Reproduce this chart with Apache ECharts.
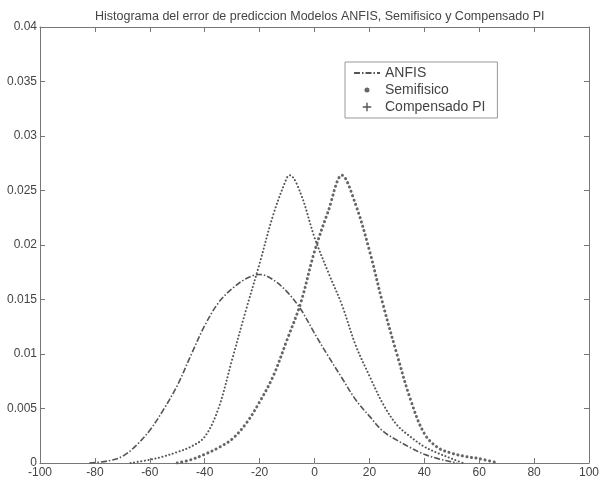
<!DOCTYPE html>
<html>
<head>
<meta charset="utf-8">
<script src="https://cdn.jsdelivr.net/npm/echarts@6/dist/echarts.min.js"></script>
<style>html,body{margin:0;padding:0;background:#fff;}#c{width:603px;height:481px;}</style>
</head>
<body>
<div id="c"></div>
<script>
var titleText = 'Histograma del error de prediccion Modelos ANFIS, Semifisico y Compensado PI';
var seriesNames = ['ANFIS', 'Semifisico', 'Compensado PI'];
var xTicks = [-100, -80, -60, -40, -20, 0, 20, 40, 60, 80, 100];
var yTicks = [0, 0.005, 0.01, 0.015, 0.02, 0.025, 0.03, 0.035, 0.04];

var anfisX = [-82, -75, -70, -65, -60, -55, -50, -45, -40, -35, -30, -25, -20, -15, -10, -5, 0, 5, 10, 15, 20, 25, 30, 35, 40, 45, 50, 52];
var anfisY = [0, 0.0002, 0.0006, 0.0016, 0.0030, 0.0049, 0.0071, 0.0099, 0.0126, 0.0147, 0.0160, 0.0169, 0.0173, 0.0168, 0.0157, 0.0141, 0.0119, 0.0098, 0.0078, 0.0058, 0.0043, 0.0029, 0.0021, 0.0014, 0.0008, 0.0004, 0.0001, 0];

var semiX = [-50, -45, -40, -35, -30, -25, -20, -15, -10, -5, 0, 5, 10, 15, 20, 25, 30, 35, 40, 45, 50, 55, 60, 67];
var semiY = [0, 0.0003, 0.0008, 0.0014, 0.0022, 0.0036, 0.0056, 0.0080, 0.0113, 0.0147, 0.0194, 0.0231, 0.0264, 0.0237, 0.0195, 0.0145, 0.0100, 0.0058, 0.0027, 0.0014, 0.0009, 0.0006, 0.0004, 0];

var compX = [-67, -60, -55, -50, -45, -40, -35, -30, -25, -20, -15, -10, -9, -5, 0, 5, 10, 15, 20, 25, 30, 35, 40, 45, 50, 54];
var compY = [0, 0.0003, 0.0006, 0.0010, 0.0015, 0.0024, 0.0050, 0.0095, 0.0140, 0.0183, 0.0228, 0.0262, 0.0264, 0.0247, 0.0207, 0.0175, 0.0145, 0.0108, 0.0080, 0.0054, 0.0035, 0.0024, 0.0015, 0.0009, 0.0004, 0];

function zip(xs, ys) { return xs.map(function (x, i) { return [x, ys[i]]; }); }

var axisCol = '#777';
var lineCol = '#555';
var fontFam = 'Liberation Sans, Arial, sans-serif';
var labelStyle = { color: '#444', fontSize: 12, fontFamily: fontFam };

function boxAxis(pos, isX, showLabel) {
  var a = {
    type: 'value', position: pos,
    axisLine: { show: true, onZero: false, lineStyle: { color: axisCol } },
    axisTick: { inside: true, length: 5, lineStyle: { color: axisCol } },
    splitLine: { show: false }
  };
  if (isX) { a.min = xTicks[0]; a.max = xTicks[xTicks.length - 1]; a.interval = xTicks[1] - xTicks[0]; }
  else { a.min = yTicks[0]; a.max = yTicks[yTicks.length - 1]; a.interval = yTicks[1] - yTicks[0]; }
  if (showLabel) {
    a.axisLabel = Object.assign({ margin: isX ? 4 : 3 }, labelStyle);
    if (!isX) a.axisLabel.formatter = function (v) { return String(+v.toFixed(3)); };
  } else {
    a.axisLabel = { show: false };
  }
  return a;
}

var dotIcon = 'path://M0,0M10,10M3.2,5a1.8,1.8 0 1,0 3.6,0a1.8,1.8 0 1,0 -3.6,0Z';
var plusIcon = 'path://M0,0M10,10M4.5,2H5.5V4.5H8V5.5H5.5V8H4.5V5.5H2V4.5H4.5Z';

var chart = echarts.init(document.getElementById('c'), null, { renderer: 'canvas' });
chart.setOption({
  backgroundColor: '#fff',
  animation: false,
  title: {
    text: titleText, left: 90, top: 5,
    textStyle: { fontSize: 12.5, fontWeight: 'normal', color: '#444', fontFamily: fontFam }
  },
  legend: {
    left: 345, top: 62, orient: 'vertical',
    data: [
      { name: seriesNames[0], itemStyle: { opacity: 0 } },
      { name: seriesNames[1], icon: dotIcon, lineStyle: { opacity: 0 } },
      { name: seriesNames[2], icon: plusIcon, lineStyle: { opacity: 0 } }
    ],
    backgroundColor: '#fff',
    borderColor: '#999', borderWidth: 1,
    padding: [4, 12, 4, 8],
    itemWidth: 26, itemHeight: 14, itemGap: 3,
    textStyle: { fontSize: 14, color: '#444', fontFamily: fontFam }
  },
  grid: { left: 40, right: 14, top: 27, bottom: 18, containLabel: false },
  xAxis: [boxAxis('bottom', true, true), boxAxis('top', true, false)],
  yAxis: [boxAxis('left', false, true), boxAxis('right', false, false)],
  series: [{
    name: seriesNames[0], type: 'line', data: zip(anfisX, anfisY),
    smooth: 0.35, showSymbol: false, symbol: 'none', color: lineCol,
    lineStyle: { color: lineCol, width: 1.6, type: [6, 2, 1.5, 2] }
  }, {
    name: seriesNames[1], type: 'line', data: zip(semiX, semiY),
    smooth: 0.35, showSymbol: false, symbol: 'none', color: '#666',
    lineStyle: { color: '#666', width: 3, type: [0.1, 4.5], cap: 'round' }
  }, {
    name: seriesNames[2], type: 'line', data: zip(compX, compY),
    smooth: 0.35, showSymbol: false, symbol: 'none', color: lineCol,
    lineStyle: { color: lineCol, width: 2, type: [0.1, 3.5], cap: 'round' }
  }]
});
</script>
</body>
</html>
